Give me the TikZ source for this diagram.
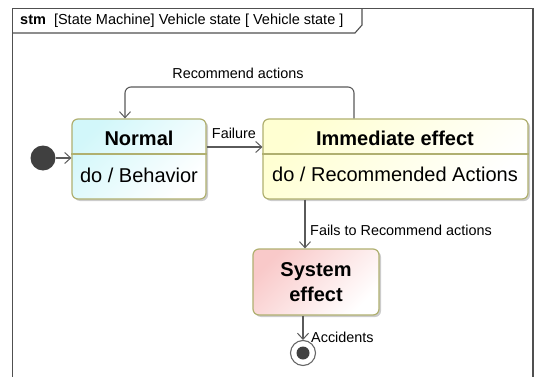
\documentclass[tikz,border=0pt]{standalone}
\usepackage{fontspec}
\setmainfont{Liberation Sans}
\usetikzlibrary{arrows.meta,shadows}
\definecolor{frameC}{HTML}{505050}
\definecolor{edgeC}{HTML}{5A5A5A}
\definecolor{boxC}{HTML}{B0B070}
\definecolor{cyanF}{HTML}{D2F7FA}
\definecolor{yellowF}{HTML}{FFFFD2}
\definecolor{pinkF}{HTML}{F9C9C9}
\tikzset{
  statebox/.style={draw=boxC, line width=1.2pt, rounded corners=6pt, inner sep=0pt,
    drop shadow={shadow xshift=2pt, shadow yshift=-2pt, opacity=.2, fill=black}},
  trans/.style={draw=edgeC, line width=1.1pt, -{Straight Barb[length=6pt,width=11pt,line width=1pt]}},
  lbl/.style={font=\fontsize{14.4}{16}\selectfont, inner sep=0pt},
  nm/.style={font=\fontsize{20}{25}\selectfont\bfseries, inner sep=0pt, align=center},
  act/.style={font=\fontsize{20}{24}\selectfont, inner sep=0pt}
}
\begin{document}
\begin{tikzpicture}[x=1pt,y=-1pt]
\useasboundingbox[fill=white] (0,0) rectangle (535,377);
% frame
\draw[frameC, line width=1.8pt] (12.5,377) -- (12.5,8.5) -- (533,8.5) -- (533,377);
\draw[frameC, line width=1.1pt] (12.5,33) -- (355,33) -- (362,25) -- (362,8.5);
\node[anchor=west, inner sep=0pt, font=\fontsize{14.5}{16}\selectfont] (title) at (20,21)
  {\textbf{stm}\ \ [State Machine] Vehicle state [ Vehicle state ]};
% states
\node[statebox, top color=cyanF, bottom color=white, shading angle=45,
  minimum width=134pt, minimum height=80pt] (normal) at (139,159) {};
\node[statebox, top color=yellowF, bottom color=white, shading angle=45,
  minimum width=265pt, minimum height=80pt] (imm) at (395.5,159) {};
\node[statebox, top color=pinkF, bottom color=white, shading angle=45,
  minimum width=126pt, minimum height=66pt] (sys) at (316,282) {};
\coordinate (dv) at (0,154);
\draw[boxC, line width=1.1pt] (normal.west |- dv) -- (normal.east |- dv);
\draw[boxC, line width=1.1pt] (imm.west |- dv) -- (imm.east |- dv);
\node[nm] (normalname) at (139,138) {Normal};
\node[act] (normalact) at (139,175) {do / Behavior};
\node[nm] (immname) at (395,138) {Immediate effect};
\node[act] (immact) at (395,174) {do / Recommended Actions};
\node[nm] (sysname) at (316,282) {System\\effect};
% initial and final
\node[circle, fill=black!75, minimum size=25pt, inner sep=0pt] (init) at (43,158) {};
\node[circle, draw=black!60, line width=1.1pt, fill=white, minimum size=25pt, inner sep=0pt] (final) at (303,353) {};
\node[circle, fill=black!75, minimum size=13pt, inner sep=0pt] (finalin) at (final) {};
% transitions
\draw[trans] (init.east) -- (init -| normal.west);
\coordinate (fy) at (0,147);
\draw[trans] (normal.east |- fy) -- (imm.west |- fy);
\node[lbl] (failure) at (234,133) {Failure};
\coordinate (ry) at (0,87);
\coordinate (rx1) at (354,0);
\coordinate (rx2) at (125,0);
\draw[trans, rounded corners=6pt] (imm.north -| rx1) -- (rx1 |- ry) -- (rx2 |- ry) -- (normal.north -| rx2);
\node[lbl] (reclbl) at (238,73) {Recommend actions};
\coordinate (fx) at (305,0);
\draw[trans] (imm.south -| fx) -- (sys.north -| fx);
\node[lbl, anchor=west] (failslbl) at (310,230) {Fails to Recommend actions};
\draw[trans] (sys.south -| final) -- (final.north);
\node[lbl, anchor=west] (acclbl) at (311,337) {Accidents};
\end{tikzpicture}
\end{document}
